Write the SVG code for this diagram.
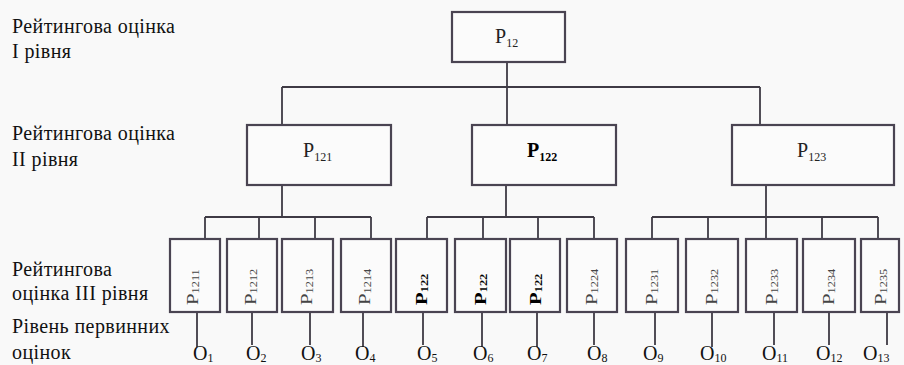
<svg xmlns="http://www.w3.org/2000/svg" width="904" height="365" viewBox="0 0 904 365">
<style>
.bg{fill:#f9f9f9}
.box{fill:#fbfbfb;stroke:#4a4452;stroke-width:2.2}
.ln{fill:none;stroke:#3f3b45;stroke-width:1.8}
.lbl{font-family:"Liberation Serif","DejaVu Serif",serif;font-size:20px;letter-spacing:0.4px;fill:#111}
.p2{font-family:"Liberation Serif","DejaVu Serif",serif;font-size:20px;fill:#222}
.p3{font-family:"Liberation Serif","DejaVu Serif",serif;font-size:16px;fill:#444}
.b{font-weight:bold;fill:#000}
.o{font-family:"Liberation Serif","DejaVu Serif",serif;font-size:20px;fill:#111}
.s2{font-size:12px}
.s3{font-size:9.5px}
.so{font-size:12px}
</style>
<rect class="bg" x="0" y="0" width="904" height="365"/>

<g id="labels">
<text class="lbl" x="12" y="33">Рейтингова оцінка</text>
<text class="lbl" x="12" y="58">І рівня</text>
<text class="lbl" x="12" y="140">Рейтингова оцінка</text>
<text class="lbl" x="12" y="166">ІІ рівня</text>
<text class="lbl" x="12" y="276">Рейтингова</text>
<text class="lbl" x="12" y="300">оцінка ІІІ рівня</text>
<text class="lbl" x="12" y="333">Рівень первинних</text>
<text class="lbl" x="12" y="359">оцінок</text>
</g>

<g id="connectors">
<path class="ln" d="M507 62V125M282 87H760M282 87V125M760 87V125"/>
<path class="ln" d="M282 185V217M205 217H371M205 217V239M259 217V239M315 217V239M371 217V239"/>
<path class="ln" d="M506 185V217M427 217H594M427 217V239M483 217V239M538 217V239M594 217V239"/>
<path class="ln" d="M766 185V239M652 217H878M652 217V239M708 217V239M822 217V239M878 217V239"/>
<path class="ln" d="M197 312V347M252 312V345M310 312V345M363 312V347M423 312V345M482 312V347M537 312V347M594 312V345M655 312V345M712 312V347M774 312V345M829 312V345M887 312V345"/>
</g>

<g id="n-p12"><rect class="box" x="452" y="12" width="113" height="50"/><text class="p2" x="495" y="43">P<tspan class="s2" dy="4">12</tspan></text></g>
<g id="n-p121"><rect class="box" x="247" y="125" width="144" height="60"/><text class="p2" x="303" y="157">P<tspan class="s2" dy="4">121</tspan></text></g>
<g id="n-p122"><rect class="box" x="472" y="125" width="144" height="60"/><text class="p2 b" x="527" y="157">P<tspan class="s2" dy="4">122</tspan></text></g>
<g id="n-p123"><rect class="box" x="732" y="125" width="162" height="60"/><text class="p2" x="797" y="157">P<tspan class="s2" dy="4">123</tspan></text></g>

<g id="n-p1211"><rect class="box" x="170" y="239" width="50" height="73"/><text class="p3" transform="translate(198 305) rotate(-90) scale(1.3 1)">P<tspan class="s3" dy="1">1211</tspan></text></g>
<g id="n-p1212"><rect class="box" x="227" y="239" width="50" height="73"/><text class="p3" transform="translate(256 305) rotate(-90) scale(1.3 1)">P<tspan class="s3" dy="1">1212</tspan></text></g>
<g id="n-p1213"><rect class="box" x="282" y="239" width="51" height="73"/><text class="p3" transform="translate(312 305) rotate(-90) scale(1.3 1)">P<tspan class="s3" dy="1">1213</tspan></text></g>
<g id="n-p1214"><rect class="box" x="341" y="239" width="50" height="73"/><text class="p3" transform="translate(370 305) rotate(-90) scale(1.3 1)">P<tspan class="s3" dy="1">1214</tspan></text></g>
<g id="n-p1221"><rect class="box" x="396" y="239" width="51" height="73"/><text class="p3 b" transform="translate(427 305) rotate(-90) scale(1.3 1)">P<tspan class="s3" dy="1">122</tspan></text></g>
<g id="n-p1222"><rect class="box" x="455" y="239" width="51" height="73"/><text class="p3 b" transform="translate(486 305) rotate(-90) scale(1.3 1)">P<tspan class="s3" dy="1">122</tspan></text></g>
<g id="n-p1223"><rect class="box" x="510" y="239" width="50" height="73"/><text class="p3 b" transform="translate(541 305) rotate(-90) scale(1.3 1)">P<tspan class="s3" dy="1">122</tspan></text></g>
<g id="n-p1224"><rect class="box" x="567" y="239" width="50" height="73"/><text class="p3" transform="translate(597 305) rotate(-90) scale(1.3 1)">P<tspan class="s3" dy="1">1224</tspan></text></g>
<g id="n-p1231"><rect class="box" x="626" y="239" width="52" height="73"/><text class="p3" transform="translate(657 305) rotate(-90) scale(1.3 1)">P<tspan class="s3" dy="1">1231</tspan></text></g>
<g id="n-p1232"><rect class="box" x="686" y="239" width="52" height="73"/><text class="p3" transform="translate(717 305) rotate(-90) scale(1.3 1)">P<tspan class="s3" dy="1">1232</tspan></text></g>
<g id="n-p1233"><rect class="box" x="746" y="239" width="51" height="73"/><text class="p3" transform="translate(777 305) rotate(-90) scale(1.3 1)">P<tspan class="s3" dy="1">1233</tspan></text></g>
<g id="n-p1234"><rect class="box" x="803" y="239" width="52" height="73"/><text class="p3" transform="translate(834 305) rotate(-90) scale(1.3 1)">P<tspan class="s3" dy="1">1234</tspan></text></g>
<g id="n-p1235"><rect class="box" x="861" y="239" width="38" height="73"/><text class="p3" transform="translate(886 305) rotate(-90) scale(1.3 1)">P<tspan class="s3" dy="1">1235</tspan></text></g>

<g id="primary">
<text class="o" x="193" y="360">O<tspan class="so" dy="2">1</tspan></text>
<text class="o" x="246" y="360">O<tspan class="so" dy="2">2</tspan></text>
<text class="o" x="301" y="360">O<tspan class="so" dy="2">3</tspan></text>
<text class="o" x="355" y="360">O<tspan class="so" dy="2">4</tspan></text>
<text class="o" x="417" y="360">O<tspan class="so" dy="2">5</tspan></text>
<text class="o" x="473" y="360">O<tspan class="so" dy="2">6</tspan></text>
<text class="o" x="527" y="360">O<tspan class="so" dy="2">7</tspan></text>
<text class="o" x="587" y="360">O<tspan class="so" dy="2">8</tspan></text>
<text class="o" x="643" y="360">O<tspan class="so" dy="2">9</tspan></text>
<text class="o" x="700" y="360">O<tspan class="so" dy="2">10</tspan></text>
<text class="o" x="762" y="360">O<tspan class="so" dy="2">11</tspan></text>
<text class="o" x="816" y="360">O<tspan class="so" dy="2">12</tspan></text>
<text class="o" x="863" y="360">O<tspan class="so" dy="2">13</tspan></text>
</g>
</svg>
